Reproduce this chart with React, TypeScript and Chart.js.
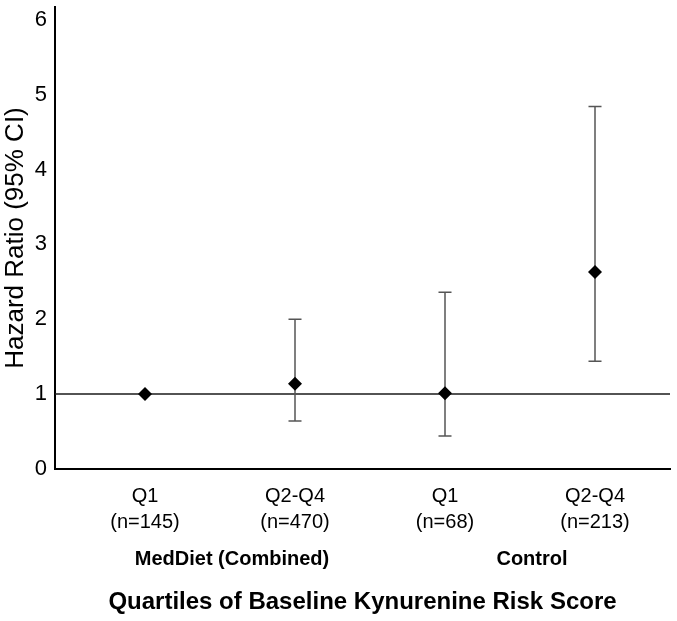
import React, { useEffect, useRef } from "react";
import { Chart, registerables } from "chart.js";

Chart.register(...registerables);

const categories = ["Q1", "Q2-Q4", "Q1", "Q2-Q4"];
const sampleSizes = ["(n=145)", "(n=470)", "(n=68)", "(n=213)"];
const xPositions = [1, 2, 3, 4];
const hazardRatios = [1.0, 1.14, 1.01, 2.63];
const lowerCI = [1.0, 0.64, 0.44, 1.44];
const upperCI = [1.0, 2.0, 2.36, 4.84];
const groupLabels = ["MedDiet (Combined)", "Control"];
const groupPositions = [1.58, 3.58];
const yTicks = [0, 1, 2, 3, 4, 5, 6];
const referenceValue = 1;

const FONT = "'Liberation Sans', Arial, sans-serif";

const errorBarPlugin = {
  id: "errorBars",
  beforeDatasetsDraw(chart: any) {
    const { ctx, chartArea, scales } = chart;
    const x = scales.x;
    const y = scales.y;
    ctx.save();
    const ry = y.getPixelForValue(referenceValue);
    ctx.strokeStyle = "#1a1a1a";
    ctx.lineWidth = 1.5;
    ctx.beginPath();
    ctx.moveTo(chartArea.left, ry);
    ctx.lineTo(chartArea.right, ry);
    ctx.stroke();
    ctx.strokeStyle = "#555555";
    ctx.lineWidth = 1.5;
    const cap = 6.5;
    xPositions.forEach((xv, i) => {
      if (upperCI[i] === lowerCI[i]) return;
      const px = x.getPixelForValue(xv);
      const top = y.getPixelForValue(upperCI[i]);
      const bot = y.getPixelForValue(lowerCI[i]);
      ctx.beginPath();
      ctx.moveTo(px, top);
      ctx.lineTo(px, bot);
      ctx.moveTo(px - cap, top);
      ctx.lineTo(px + cap, top);
      ctx.moveTo(px - cap, bot);
      ctx.lineTo(px + cap, bot);
      ctx.stroke();
    });
    ctx.restore();
  },
  afterDraw(chart: any) {
    const { ctx, chartArea, scales } = chart;
    ctx.save();
    ctx.fillStyle = "#000";
    ctx.font = `bold 20px ${FONT}`;
    ctx.textAlign = "center";
    ctx.textBaseline = "middle";
    groupLabels.forEach((g, i) => {
      const px = scales.x.getPixelForValue(groupPositions[i]);
      ctx.fillText(g, px, chartArea.bottom + 90);
    });
    ctx.restore();
  },
};

export default function App() {
  const ref = useRef<HTMLCanvasElement | null>(null);
  useEffect(() => {
    if (!ref.current) return;
    const chart = new Chart(ref.current, {
      type: "scatter",
      data: {
        datasets: [
          {
            data: xPositions.map((xv, i) => ({ x: xv, y: hazardRatios[i] })),
            pointStyle: "rectRot",
            pointRadius: 7,
            backgroundColor: "#000",
            borderColor: "#000",
            borderWidth: 0,
          },
        ],
      },
      options: {
        animation: false,
        responsive: false,
        layout: { padding: { top: 2, right: 3, left: 0, bottom: 0 } },
        plugins: { legend: { display: false }, tooltip: { enabled: false } },
        scales: {
          x: {
            type: "linear",
            min: 0.4,
            max: 4.5,
            grid: { display: false, drawTicks: false },
            border: { display: true, color: "#000", width: 2 },
            afterBuildTicks: (scale: any) => {
              scale.ticks = xPositions.map((v) => ({ value: v }));
            },
            afterFit: (scale: any) => {
              scale.height = 152;
              scale.paddingLeft = 0;
              scale.paddingRight = 0;
            },
            ticks: {
              autoSkip: false,
              maxRotation: 0,
              padding: 14,
              color: "#000",
              font: { family: FONT, size: 20, lineHeight: 1.3 },
              callback: (v: any) => {
                const idx = xPositions.indexOf(Number(v));
                return idx >= 0 ? [categories[idx], sampleSizes[idx]] : "";
              },
            },
            title: {
              display: true,
              text: "Quartiles of Baseline Kynurenine Risk Score",
              color: "#000",
              font: { family: FONT, size: 24, weight: "bold" },
              padding: { top: 0, bottom: 4 },
            },
          },
          y: {
            type: "linear",
            min: 0,
            max: 6.17,
            grid: { display: false, drawTicks: false },
            border: { display: true, color: "#000", width: 2 },
            afterBuildTicks: (scale: any) => {
              scale.ticks = yTicks.map((v) => ({ value: v }));
            },
            afterFit: (scale: any) => {
              scale.width = 55;
              scale.paddingTop = 0;
              scale.paddingBottom = 0;
            },
            ticks: {
              padding: 8,
              color: "#000",
              font: { family: FONT, size: 22 },
            },
            title: {
              display: true,
              text: "Hazard Ratio (95% CI)",
              color: "#000",
              font: { family: FONT, size: 26 },
              padding: { top: 0, bottom: 0 },
            },
          },
        },
      },
      plugins: [errorBarPlugin],
    });
    return () => chart.destroy();
  }, []);
  return (
    <div style={{ position: "fixed", left: 0, top: 0, width: 677, height: 621, background: "#fff" }}>
      <canvas ref={ref} width={677} height={621} style={{ display: "block" }} />
    </div>
  );
}
